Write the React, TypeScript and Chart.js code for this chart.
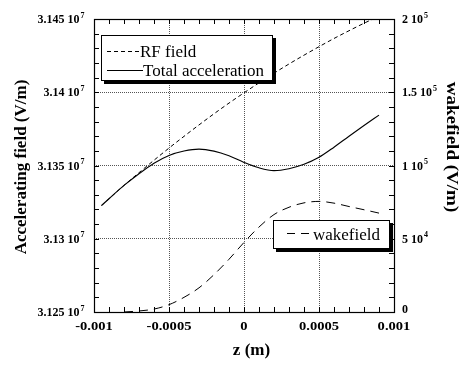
import React, { useEffect, useRef } from "react";
import { Chart, registerables } from "chart.js";

Chart.register(...registerables);

// z positions (m)
const zValues = [
  -0.00095, -0.0009, -0.0008, -0.0007, -0.0006, -0.0005, -0.0004, -0.0003, -0.0002, -0.0001,
  0, 0.0001, 0.0002, 0.0003, 0.0004, 0.0005, 0.0006, 0.0007, 0.0008, 0.0009,
];
// RF field (V/m)
const rfField = [
  31322700, 31327300, 31336400, 31345100, 31353600, 31361900, 31369900, 31377700, 31385300, 31392600,
  31399600, 31406400, 31413000, 31419300, 31425300, 31431100, 31436700, 31442000, 31447100, 31451900,
];
// Total acceleration (V/m)
const totalAcceleration = [
  31322700, 31327300, 31336400, 31344400, 31351600, 31356900, 31359900, 31361200, 31359800, 31356600,
  31352100, 31348400, 31346500, 31347800, 31350800, 31355600, 31362500, 31370000, 31377300, 31384400,
];
// wakefield z positions and values (V/m)
const wakeZ = [
  -0.0008, -0.0007, -0.0006, -0.0005, -0.0004, -0.0003, -0.0002, -0.0001,
  0, 0.0001, 0.0002, 0.0003, 0.0004, 0.0005, 0.0006, 0.0007, 0.0008, 0.0009,
];
const wakefield = [
  0, 700, 2000, 5000, 10000, 16500, 25500, 36000,
  47500, 58000, 66500, 71500, 74500, 75500, 74300, 72000, 69800, 67500,
];

const xTicks = [-0.001, -0.0005, 0, 0.0005, 0.001];
const xTickLabels = ["-0.001", "-0.0005", "0", "0.0005", "0.001"];
const leftTicks = [31250000, 31300000, 31350000, 31400000, 31450000];
const leftTickMantissa = ["3.125 10", "3.13 10", "3.135 10", "3.14 10", "3.145 10"];
const leftTickExponent = ["7", "7", "7", "7", "7"];
const rightTicks = [0, 50000, 100000, 150000, 200000];
const rightTickMantissa = ["0", "5 10", "1 10", "1.5 10", "2 10"];
const rightTickExponent = ["", "4", "5", "5", "5"];

const SERIF = '"Liberation Serif", "Times New Roman", serif';

function drawText(
  ctx: CanvasRenderingContext2D,
  s: string,
  x: number,
  y: number,
  font: string,
  align: CanvasTextAlign,
  baseline: CanvasTextBaseline,
  sx = 1,
  rot = 0
) {
  ctx.save();
  ctx.translate(x, y);
  if (rot) ctx.rotate(rot);
  ctx.scale(sx, 1);
  ctx.font = font;
  ctx.textAlign = align;
  ctx.textBaseline = baseline;
  ctx.fillStyle = "#000";
  ctx.fillText(s, 0, 0);
  ctx.restore();
}

function legendBox(ctx: CanvasRenderingContext2D, l: number, t: number, r: number, b: number) {
  ctx.save();
  ctx.fillStyle = "#000";
  ctx.fillRect(l + 3, t + 3, r - l, b - t);
  ctx.fillStyle = "#fff";
  ctx.fillRect(l, t, r - l, b - t);
  ctx.strokeStyle = "#000";
  ctx.lineWidth = 1;
  ctx.strokeRect(l + 0.5, t + 0.5, r - l - 1, b - t - 1);
  ctx.restore();
}

function sample(ctx: CanvasRenderingContext2D, x1: number, x2: number, y: number, dash: number[]) {
  ctx.save();
  ctx.strokeStyle = "#000";
  ctx.lineWidth = 1;
  ctx.setLineDash(dash);
  ctx.beginPath();
  ctx.moveTo(x1, y);
  ctx.lineTo(x2, y);
  ctx.stroke();
  ctx.restore();
}

const overlayPlugin = {
  id: "overlay",
  afterDraw(chart: any) {
    const ctx: CanvasRenderingContext2D = chart.ctx;
    const { left, right, top, bottom } = chart.chartArea;
    const xs = chart.scales.x;
    const ys = chart.scales.y;
    const y2 = chart.scales.y2;

    // legends
    legendBox(ctx, 101, 35, 273, 81);
    sample(ctx, 107, 140, 51.5, [4, 3]);
    sample(ctx, 107, 143, 70.5, []);
    drawText(ctx, "RF field", 140, 57, `17px ${SERIF}`, "left", "alphabetic");
    drawText(ctx, "Total acceleration", 143, 76, `17px ${SERIF}`, "left", "alphabetic");

    legendBox(ctx, 273, 220, 390, 249);
    sample(ctx, 287, 311, 233.5, [8, 6]);
    drawText(ctx, "wakefield", 313, 240, `17px ${SERIF}`, "left", "alphabetic");

    // frame
    ctx.save();
    ctx.strokeStyle = "#000";
    ctx.lineWidth = 1.2;
    ctx.strokeRect(Math.round(left) + 0.5, Math.round(top) + 0.5, Math.round(right - left), Math.round(bottom - top));

    // minor/major ticks (inward)
    ctx.lineWidth = 1;
    ctx.beginPath();
    for (let i = -10; i <= 10; i++) {
      const px = Math.round(xs.getPixelForValue(i * 0.0001)) + 0.5;
      ctx.moveTo(px, bottom);
      ctx.lineTo(px, bottom - 5);
      ctx.moveTo(px, top);
      ctx.lineTo(px, top + 5);
    }
    for (let i = 0; i <= 20; i++) {
      const py = Math.round(ys.getPixelForValue(31250000 + i * 10000)) + 0.5;
      ctx.moveTo(left, py);
      ctx.lineTo(left + 5, py);
      const py2 = Math.round(y2.getPixelForValue(i * 10000)) + 0.5;
      ctx.moveTo(right, py2);
      ctx.lineTo(right - 5, py2);
    }
    ctx.stroke();
    ctx.restore();

    // x tick labels
    xTicks.forEach((v, i) => {
      const px = xs.getPixelForValue(v);
      drawText(ctx, xTickLabels[i], px, 330, `bold 13px ${SERIF}`, "center", "alphabetic", 1.12);
    });

    // left tick labels
    leftTicks.forEach((v, i) => {
      const py = ys.getPixelForValue(v);
      ctx.font = `bold 8px ${SERIF}`;
      const ew = ctx.measureText(leftTickExponent[i]).width;
      drawText(ctx, leftTickExponent[i], 84.5, py - 1.5, `bold 8px ${SERIF}`, "right", "alphabetic");
      drawText(ctx, leftTickMantissa[i], 84.5 - ew - 1, py + 4, `bold 12px ${SERIF}`, "right", "alphabetic");
    });

    // right tick labels
    rightTicks.forEach((v, i) => {
      const py = y2.getPixelForValue(v);
      ctx.font = `bold 12px ${SERIF}`;
      const mw = ctx.measureText(rightTickMantissa[i]).width;
      const base = Math.min(py + 4, 313);
      drawText(ctx, rightTickMantissa[i], 402, base, `bold 12px ${SERIF}`, "left", "alphabetic");
      if (rightTickExponent[i]) {
        drawText(ctx, rightTickExponent[i], 402 + mw + 1, py - 1.5, `bold 8px ${SERIF}`, "left", "alphabetic");
      }
    });

    // axis titles
    drawText(ctx, "z (m)", 251.5, 355, `bold 17px ${SERIF}`, "center", "alphabetic");
    drawText(ctx, "Accelerating field (V/m)", 21.5, 167, `bold 17px ${SERIF}`, "center", "middle", 1, -Math.PI / 2);
    drawText(ctx, "wakefield (V/m)", 451, 147, `bold 17px ${SERIF}`, "center", "middle", 1.12, Math.PI / 2);
  },
};

export default function App() {
  const ref = useRef<HTMLCanvasElement | null>(null);

  useEffect(() => {
    if (!ref.current) return;
    const chart = new Chart(ref.current, {
      type: "line",
      data: {
        datasets: [
          {
            label: "RF field",
            data: zValues.map((z, i) => ({ x: z, y: rfField[i] })),
            yAxisID: "y",
            borderColor: "#000",
            borderWidth: 1,
            borderDash: [4, 3],
            pointRadius: 0,
            cubicInterpolationMode: "monotone",
            fill: false,
          },
          {
            label: "Total acceleration",
            data: zValues.map((z, i) => ({ x: z, y: totalAcceleration[i] })),
            yAxisID: "y",
            borderColor: "#000",
            borderWidth: 1.1,
            pointRadius: 0,
            cubicInterpolationMode: "monotone",
            fill: false,
          },
          {
            label: "wakefield",
            data: wakeZ.map((z, i) => ({ x: z, y: wakefield[i] })),
            yAxisID: "y2",
            borderColor: "#000",
            borderWidth: 1,
            borderDash: [9, 6],
            pointRadius: 0,
            cubicInterpolationMode: "monotone",
            fill: false,
          },
        ],
      },
      options: {
        responsive: false,
        animation: false,
        events: [],
        layout: { padding: { left: 0, right: 0, top: 19, bottom: 0 } },
        plugins: { legend: { display: false }, tooltip: { enabled: false } },
        scales: {
          x: {
            type: "linear",
            min: -0.001,
            max: 0.001,
            ticks: { display: false, stepSize: 0.0005 },
            grid: { color: "#555", lineWidth: 1, drawTicks: false },
            border: { display: false, dash: [1, 1] },
            afterFit: (s: any) => {
              s.height = 53;
            },
          },
          y: {
            type: "linear",
            position: "left",
            min: 31250000,
            max: 31450000,
            ticks: { display: false, stepSize: 50000 },
            grid: { color: "#555", lineWidth: 1, drawTicks: false },
            border: { display: false, dash: [1, 1] },
            afterFit: (s: any) => {
              s.width = 94;
            },
          },
          y2: {
            type: "linear",
            position: "right",
            min: 0,
            max: 200000,
            ticks: { display: false, stepSize: 50000 },
            grid: { display: false, drawTicks: false },
            border: { display: false },
            afterFit: (s: any) => {
              s.width = 65;
            },
          },
        },
      } as any,
      plugins: [overlayPlugin],
    });
    return () => chart.destroy();
  }, []);

  return (
    <div style={{ position: "fixed", left: 0, top: 0, width: 459, height: 365, background: "#fff" }}>
      <canvas ref={ref} width={459} height={365} style={{ display: "block" }} />
    </div>
  );
}
